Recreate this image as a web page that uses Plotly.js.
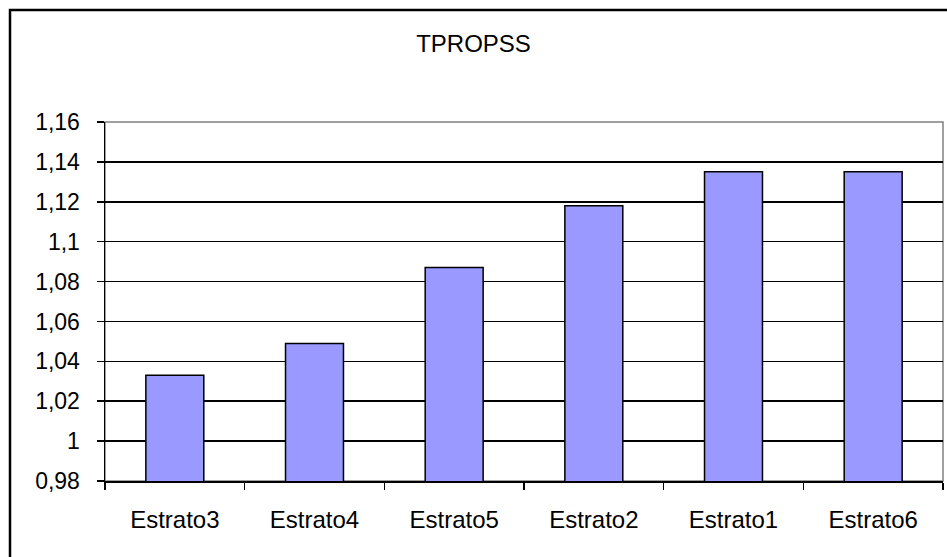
<!DOCTYPE html>
<html>
<head>
<meta charset="utf-8">
<script src="https://cdn.plot.ly/plotly-3.0.1.min.js"></script>
<style>html,body{margin:0;padding:0;background:#fff;}#chart{width:947px;height:557px;}</style>
</head>
<body>
<div id="chart"></div>
<script>
const categories = ["Estrato3", "Estrato4", "Estrato5", "Estrato2", "Estrato1", "Estrato6"];
const values = [1.033, 1.049, 1.087, 1.118, 1.135, 1.135];
const yTickVals = [0.98, 1.00, 1.02, 1.04, 1.06, 1.08, 1.10, 1.12, 1.14, 1.16];
const yTickText = ["0,98", "1", "1,02", "1,04", "1,06", "1,08", "1,1", "1,12", "1,14", "1,16"];

const W = 947, H = 557;
const margin = {l: 105, r: 4, t: 122, b: 76};
const pw = W - margin.l - margin.r, ph = H - margin.t - margin.b;
// outer frame at ~10px from top-left, extends beyond right/bottom
const fx = (10 - margin.l) / pw, fy = (H - margin.b - 10) / ph;

const trace = {
  type: "bar",
  x: categories,
  y: values,
  marker: {color: "#9999FF", line: {color: "#000000", width: 1.5}},
  hoverinfo: "skip"
};

const layout = {
  width: W, height: H,
  margin: margin,
  paper_bgcolor: "#ffffff",
  plot_bgcolor: "#ffffff",
  font: {family: "Liberation Sans, Arial, sans-serif", size: 23, color: "#000"},
  showlegend: false,
  bargap: 0.585,
  title: {text: "TPROPSS", font: {size: 24, color: "#000"}, x: 0.5, xanchor: "center", y: 1 - 44 / H, yanchor: "middle", yref: "container"},
  xaxis: {
    type: "category",
    showgrid: false,
    showline: true, linecolor: "#000", linewidth: 1.5,
    ticks: "outside", tickson: "boundaries", ticklen: 7, tickwidth: 1.5, tickcolor: "#000",
    ticklabelstandoff: 17,
    tickfont: {size: 24},
    zeroline: false
  },
  yaxis: {
    range: [0.98, 1.16],
    tickvals: yTickVals,
    ticktext: yTickText,
    showgrid: true, gridcolor: "#000", gridwidth: 1.5,
    showline: true, linecolor: "#000", linewidth: 1.5,
    ticks: "outside", ticklen: 7, tickwidth: 1.5, tickcolor: "#000",
    ticklabelstandoff: 12,
    tickfont: {size: 23},
    zeroline: false
  },
  shapes: [
    {type: "rect", xref: "paper", yref: "paper", x0: 0, x1: 1, y0: 0, y1: 1,
     line: {color: "#808080", width: 1.5}, layer: "below"},
    {type: "path", xref: "paper", yref: "paper",
     path: "M " + fx + " -1 L " + fx + " " + fy + " L 1.2 " + fy,
     line: {color: "#000", width: 2.5}}
  ]
};

Plotly.newPlot("chart", [trace], layout, {displayModeBar: false, staticPlot: true});
</script>
</body>
</html>
